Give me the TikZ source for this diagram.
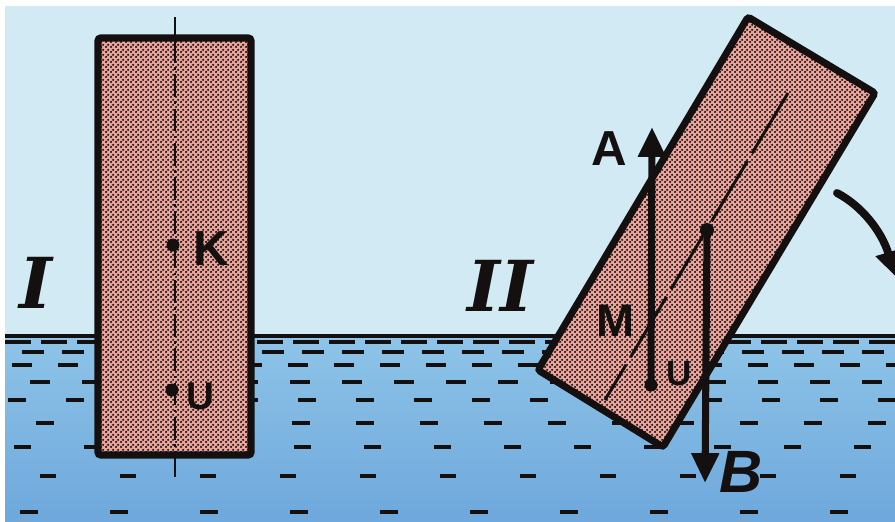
\documentclass[tikz,border=0pt]{standalone}
\usepackage{fontspec}
\setmainfont{Liberation Serif}
\setsansfont{Liberation Sans}
\newfontfamily\slabfont{DejaVu Serif}
\usetikzlibrary{arrows.meta,patterns.meta}
\definecolor{Ink}{HTML}{141010}
\definecolor{Sky}{HTML}{D2EAF3}
\definecolor{WaterTop}{HTML}{8EC4E8}
\definecolor{WaterDeep}{HTML}{6EA8DC}
\definecolor{Wood}{HTML}{EBA59C}
\tikzdeclarepattern{
  name=halftone,
  type=uncolored,
  bounding box={(0pt,0pt) and (2.6pt,2.6pt)},
  tile size={(2.6pt,2.6pt)},
  code={
    \fill (.65pt,.65pt) circle (.74pt);
    \fill (1.95pt,1.95pt) circle (.74pt);
  }
}
\tikzset{
  block/.style={
    draw=Ink, line width=4pt, fill=Wood, rounded corners=1.5pt,
    postaction={pattern=halftone, pattern color=Ink}
  },
  axisline/.style={draw=Ink, line width=1.7pt,
    dash pattern=on 13pt off 2.5pt on 1.5pt off 2.5pt},
  tiltaxis/.style={draw=Ink, line width=1.7pt, dash pattern=on 40pt off 5pt},
  stem/.style={draw=Ink, line width=1.7pt},
  force/.style={-{Triangle[length=17pt,width=15pt]}, line width=4pt, draw=Ink},
  turn/.style={-{Triangle[length=14pt,width=14pt]}, line width=4.5pt,
    draw=Ink, line cap=round},
  ripple/.style={draw=Ink, line width=1.8pt},
  surface/.style={draw=Ink, line width=2.8pt},
  lbl/.style={font=\sffamily\bfseries\fontsize{28}{28}\selectfont,
    text=Ink, inner sep=0pt},
  numeral/.style={font=\slabfont\bfseries\itshape\fontsize{40}{40}\selectfont,
    text=Ink, inner sep=0pt}
}

\begin{document}
\begin{tikzpicture}[x=0.02cm,y=-0.02cm]
  \useasboundingbox (0,0) rectangle (895,521);
  \clip (0,0) rectangle (895,521);

  % air and water
  \fill[white] (0,0) rectangle (895,521);
  \fill[Sky] (5,6) rectangle (895,336);
  \fill[top color=WaterTop,bottom color=WaterDeep] (5,336) rectangle (895,521);

  % ripples: y / step / offset / length
  \foreach \y/\s/\o/\l in {342/36/5/26, 352/40/22/22, 365/46/12/20,
      382/52/30/20, 400/58/8/18, 423/64/36/18, 447/70/14/17,
      476/80/40/16, 512/90/20/18}{
    \foreach \i in {0,...,26}{
      \draw[ripple] ({\o+\i*\s},\y) -- ++(\l,0);
    }
  }
  \draw[surface] (5,336) -- (895,336);

  % upright block
  \path[block] (98,38) rectangle (251,455);
  \draw[stem] (175,17) -- (175,40);
  \draw[axisline] (175,40) -- (175,453);
  \draw[stem] (175,453) -- (175,477);
  \coordinate (K) at (173,245);
  \coordinate (U1) at (172,390);
  \fill[Ink] (K) circle (6.5);
  \fill[Ink] (U1) circle (6.5);
  \node[lbl] (Klbl) at (211,249) {K};
  \node[lbl,font=\sffamily\bfseries\fontsize{22}{22}\selectfont] (U1lbl) at (200,396) {U};
  \node[numeral] (one) at (36,283) {I};

  % tilted block
  \path[block] (748,17) -- (875,93) -- (663,447) -- (538,370) -- cycle;
  \draw[tiltaxis] (788,93) -- (605,400);
  \coordinate (M) at (652,321);
  \coordinate (U2) at (651,385);
  \coordinate (Atip) at (652,127);
  \coordinate (G) at (707,230);
  \coordinate (Btip) at (705,483);
  \draw[force] (U2) -- (Atip);
  \draw[force] (G) -- (Btip);
  \fill[Ink] (U2) circle (6.5);
  \fill[Ink] (G) circle (7);
  \node[lbl] (Albl) at (609,149) {A};
  \node[lbl,font=\sffamily\bfseries\fontsize{26}{26}\selectfont] (Mlbl) at (616,321) {M};
  \node[lbl,font=\sffamily\bfseries\fontsize{20}{20}\selectfont] (U2lbl) at (679,374) {U};
  \node[lbl,font=\sffamily\bfseries\itshape\fontsize{34}{34}\selectfont] (Blbl) at (741,472) {B};
  \node[numeral] (two) at (500,286) {II};

  % tipping direction
  \coordinate (turnA) at (837,193);
  \coordinate (turnB) at (895,276);
  \draw[turn] (turnA) .. controls (862,206) and (882,232) .. (turnB);
\end{tikzpicture}
\end{document}
